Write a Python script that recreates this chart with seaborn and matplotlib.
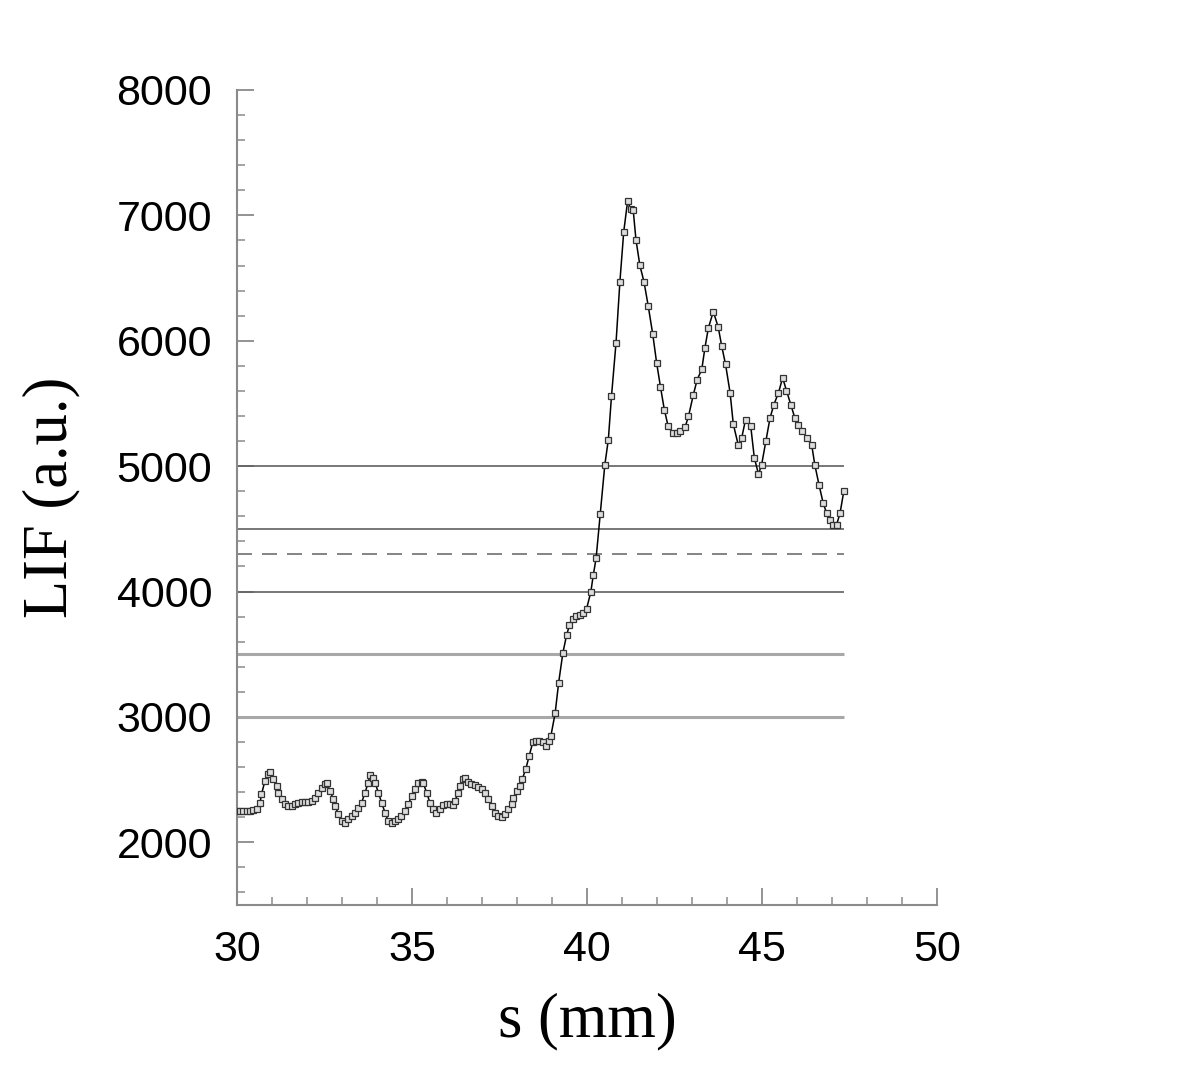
import numpy as np
import pandas as pd
import matplotlib
matplotlib.use("Agg")
import matplotlib.pyplot as plt
import seaborn as sns
from matplotlib.ticker import MultipleLocator

# LIF profile along s
s_mm = [30.00, 30.09, 30.18, 30.28, 30.37, 30.47, 30.56, 30.66, 30.70, 30.80,
        30.90, 30.94, 31.04, 31.13, 31.18, 31.28, 31.37, 31.47, 31.56, 31.66,
        31.75, 31.85, 31.94, 32.04, 32.13, 32.23, 32.32, 32.42, 32.51, 32.56,
        32.66, 32.75, 32.80, 32.90, 32.99, 33.09, 33.18, 33.28, 33.37, 33.47,
        33.56, 33.66, 33.75, 33.80, 33.90, 33.94, 34.04, 34.13, 34.23, 34.32,
        34.42, 34.51, 34.61, 34.70, 34.80, 34.90, 34.99, 35.09, 35.18, 35.28,
        35.32, 35.42, 35.51, 35.61, 35.70, 35.80, 35.90, 35.99, 36.09, 36.18,
        36.23, 36.32, 36.37, 36.47, 36.51, 36.61, 36.70, 36.80, 36.90, 36.99,
        37.09, 37.18, 37.28, 37.37, 37.47, 37.56, 37.66, 37.75, 37.85, 37.90,
        37.99, 38.09, 38.15, 38.25, 38.35, 38.45, 38.54, 38.64, 38.73, 38.83,
        38.92, 38.97, 39.09, 39.19, 39.31, 39.42, 39.50, 39.61, 39.70, 39.80,
        39.90, 39.99, 40.11, 40.18, 40.26, 40.38, 40.51, 40.61, 40.70, 40.83,
        40.94, 41.05, 41.16, 41.25, 41.32, 41.40, 41.51, 41.63, 41.75, 41.88,
        41.99, 42.10, 42.21, 42.32, 42.45, 42.56, 42.66, 42.80, 42.90, 43.04,
        43.15, 43.28, 43.37, 43.47, 43.61, 43.75, 43.85, 43.96, 44.09, 44.18,
        44.32, 44.42, 44.53, 44.68, 44.78, 44.90, 44.99, 45.11, 45.23, 45.34,
        45.47, 45.59, 45.70, 45.82, 45.94, 46.04, 46.15, 46.28, 46.42, 46.51,
        46.63, 46.75, 46.85, 46.94, 47.04, 47.13, 47.23, 47.34]
lif = [2251, 2251, 2251, 2251, 2251, 2256, 2264, 2317, 2384, 2491,
       2544, 2563, 2504, 2451, 2397, 2344, 2304, 2291, 2291, 2309,
       2317, 2323, 2323, 2323, 2331, 2357, 2397, 2437, 2464, 2477,
       2411, 2344, 2291, 2224, 2171, 2157, 2184, 2211, 2237, 2277,
       2317, 2397, 2477, 2536, 2517, 2477, 2397, 2317, 2237, 2171,
       2152, 2171, 2189, 2211, 2251, 2304, 2371, 2424, 2472, 2483,
       2472, 2397, 2317, 2264, 2237, 2264, 2299, 2304, 2304, 2299,
       2331, 2397, 2451, 2504, 2517, 2483, 2464, 2456, 2445, 2429,
       2397, 2344, 2291, 2237, 2211, 2205, 2224, 2264, 2304, 2357,
       2411, 2451, 2504, 2584, 2691, 2797, 2811, 2811, 2797, 2771,
       2811, 2851, 3029, 3272, 3509, 3656, 3731, 3779, 3805, 3811,
       3832, 3864, 3997, 4131, 4264, 4620, 5011, 5211, 5557, 5984,
       6469, 6869, 7112, 7051, 7043, 6805, 6603, 6469, 6277, 6051,
       5824, 5632, 5451, 5317, 5264, 5264, 5277, 5309, 5397, 5571,
       5691, 5771, 5944, 6104, 6232, 6109, 5957, 5811, 5584, 5336,
       5171, 5224, 5371, 5317, 5069, 4936, 5011, 5197, 5384, 5491,
       5584, 5704, 5603, 5491, 5384, 5331, 5283, 5224, 5171, 5011,
       4851, 4704, 4624, 4571, 4531, 4531, 4624, 4803]

# threshold levels drawn as horizontal lines
levels_dark = [5000, 4500, 4000]
level_dashed = 4300
levels_light = [3500, 3000]

df = pd.DataFrame({"s": s_mm, "LIF": lif})

sns.set_style("ticks")
plt.rcParams["font.family"] = ["Liberation Sans", "DejaVu Sans"]

fig = plt.figure(figsize=(12, 10.65), dpi=100)
ax = fig.add_axes([0.1975, 0.1502, 0.5833, 0.7653])

s_end = df["s"].max()
ax.hlines(levels_light, 30, s_end, colors="#a8a8a8", linewidth=2.2, zorder=1)
ax.hlines(levels_dark, 30, s_end, colors="#606060", linewidth=1.2, zorder=1)
ax.hlines([level_dashed], 30, s_end, colors="#707070", linewidth=1.2,
          linestyles=(0, (9, 6)), zorder=1)

sns.lineplot(data=df, x="s", y="LIF", ax=ax, color="black", linewidth=1.1,
             marker="s", markersize=4.5, markerfacecolor="#dddddd",
             markeredgecolor="#333333", markeredgewidth=0.9, zorder=3)

ax.set_xlim(30, 50)
ax.set_ylim(1500, 8000)
ax.xaxis.set_major_locator(MultipleLocator(5))
ax.xaxis.set_minor_locator(MultipleLocator(1))
ax.yaxis.set_major_locator(MultipleLocator(1000))
ax.yaxis.set_minor_locator(MultipleLocator(200))
ax.set_yticks(range(2000, 8001, 1000))

sns.despine(ax=ax)
for sp in ("left", "bottom"):
    ax.spines[sp].set_color("#8a8a8a")
    ax.spines[sp].set_linewidth(1.5)
ax.tick_params(which="major", direction="in", length=12, width=1.3,
               color="#8a8a8a", labelsize=31, pad=18, labelcolor="black")
ax.tick_params(which="minor", direction="in", length=6, width=1.1,
               color="#8a8a8a")

ax.set_xlabel("s (mm)", fontsize=45, color="black",
              family=["Liberation Serif", "DejaVu Serif"], labelpad=16)
ax.set_ylabel("LIF (a.u.)", fontsize=45, color="black",
              family=["Liberation Serif", "DejaVu Serif"], labelpad=26)

fig.savefig("out.png", dpi=100, facecolor="white")
